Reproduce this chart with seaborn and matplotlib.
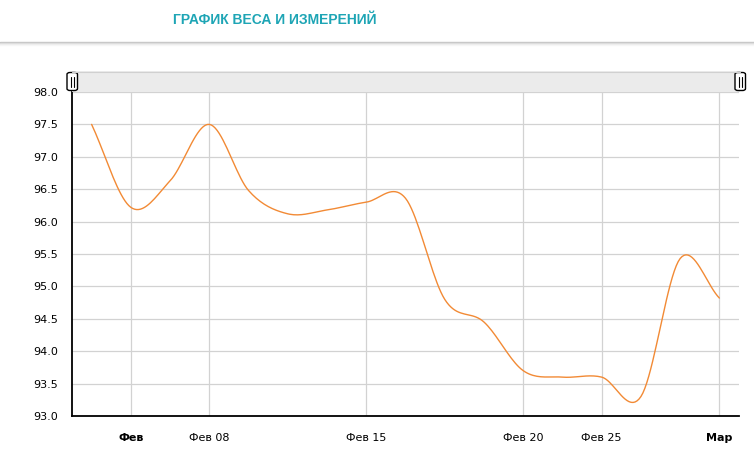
import numpy as np
import matplotlib
matplotlib.use("Agg")
import matplotlib.pyplot as plt
import seaborn as sns
import pandas as pd
from matplotlib.patches import FancyBboxPatch, Rectangle
from matplotlib.lines import Line2D

# данные: одна запись веса на точку, ось категорий с равным шагом
x_labels = ["", "Фев", "", "Фев 08", "", "", "", "Фев 15", "", "",
            "", "Фев 20", "", "Фев 25", "", "", "Мар"]
weight = [97.5, 96.22, 96.63, 97.5, 96.48, 96.12, 96.18, 96.3, 96.36,
          94.8, 94.45, 93.7, 93.6, 93.6, 93.3, 95.43, 94.82]
bold_labels = ["Фев", "Мар"]

title = "ГРАФИК ВЕСА И ИЗМЕРЕНИЙ"
line_color = "#f28a35"
title_color = "#1ea5b5"
grid_color = "#d2d2d2"


def smooth(y, n=20):
    # сглаженная линия как в amCharts (кардинальный сплайн)
    y = np.asarray(y, dtype=float)
    k = len(y)
    m = np.zeros(k)
    m[1:-1] = (y[2:] - y[:-2]) / 2
    m[0] = y[1] - y[0]
    m[-1] = y[-1] - y[-2]
    xs, ys = [], []
    t = np.linspace(0, 1, n, endpoint=False)
    for i in range(k - 1):
        h00 = 2 * t**3 - 3 * t**2 + 1
        h10 = t**3 - 2 * t**2 + t
        h01 = -2 * t**3 + 3 * t**2
        h11 = t**3 - t**2
        xs.extend(i + t)
        ys.extend(h00 * y[i] + h10 * m[i] + h01 * y[i + 1] + h11 * m[i + 1])
    xs.append(k - 1)
    ys.append(y[-1])
    return np.array(xs), np.array(ys)


sns.set_style("white")
plt.rcParams["font.family"] = ["DejaVu Sans"]

fig = plt.figure(figsize=(7.54, 4.58), dpi=100)
W, H = 754, 458

def fx(px):
    return px / W

def fy(py):
    return 1 - py / H

ax = fig.add_axes([fx(72), fy(416), fx(739) - fx(72), fy(92) - fy(416)])

sx, sy = smooth(weight)
df = pd.DataFrame({"x": sx, "y": sy})
sns.lineplot(data=df, x="x", y="y", ax=ax, color=line_color, linewidth=1.0)

ax.set_xlim(-0.5, len(weight) - 0.5)
ax.set_ylim(93.0, 98.0)
ax.set_yticks(np.arange(93.0, 98.01, 0.5))
ax.set_yticklabels([f"{v:.1f}" for v in np.arange(93.0, 98.01, 0.5)], fontsize=8)

tick_pos = [i for i, lab in enumerate(x_labels) if lab]
tick_lab = [lab for lab in x_labels if lab]
ax.set_xticks(tick_pos)
ax.set_xticklabels(tick_lab, fontsize=8)
for t in ax.get_xticklabels():
    if t.get_text() in bold_labels:
        t.set_fontweight("bold")

ax.set_xlabel("")
ax.set_ylabel("")
ax.grid(True, color=grid_color, linewidth=0.9)
ax.set_axisbelow(True)
for side in ["top", "right"]:
    ax.spines[side].set_visible(False)
for side in ["left", "bottom"]:
    ax.spines[side].set_color("black")
    ax.spines[side].set_linewidth(1.3)
ax.tick_params(axis="y", direction="out", length=3, width=1, color="black",
               labelcolor="black", pad=7)
ax.tick_params(axis="x", direction="out", length=5, width=1, color="black",
               labelcolor="black", pad=7)

# заголовок и линия под шапкой
fig.text(fx(275), fy(20), title, color=title_color, fontsize=10, fontweight="bold",
         family=["Liberation Sans", "DejaVu Sans"], ha="center", va="center")
for i, c in enumerate(["#c4c4c4", "#dadada", "#ececec", "#f6f6f6"]):
    fig.add_artist(Line2D([0, 1], [fy(42 + i), fy(42 + i)], color=c, linewidth=1.0,
                          transform=fig.transFigure))

# полоса прокрутки
fig.add_artist(Rectangle((fx(72), fy(92)), fx(740) - fx(72), fy(71) - fy(92),
                         transform=fig.transFigure, facecolor="#ebebeb",
                         edgecolor="none"))
fig.add_artist(Line2D([fx(72), fx(740)], [fy(71.5), fy(71.5)], color="#d0d0d0",
                      linewidth=0.8, transform=fig.transFigure))
for left in [67, 735]:
    fig.add_artist(FancyBboxPatch((fx(left), fy(90.5)), fx(10.5), fy(72.5) - fy(90.5),
                                  boxstyle="round,pad=0,rounding_size=0.004",
                                  transform=fig.transFigure, facecolor="white",
                                  edgecolor="black", linewidth=1.0))
    for dx in [3.5, 7.0]:
        fig.add_artist(Line2D([fx(left + dx), fx(left + dx)], [fy(76.5), fy(86.5)],
                              color="black", linewidth=0.8, transform=fig.transFigure))

fig.savefig("out.png", dpi=100)
